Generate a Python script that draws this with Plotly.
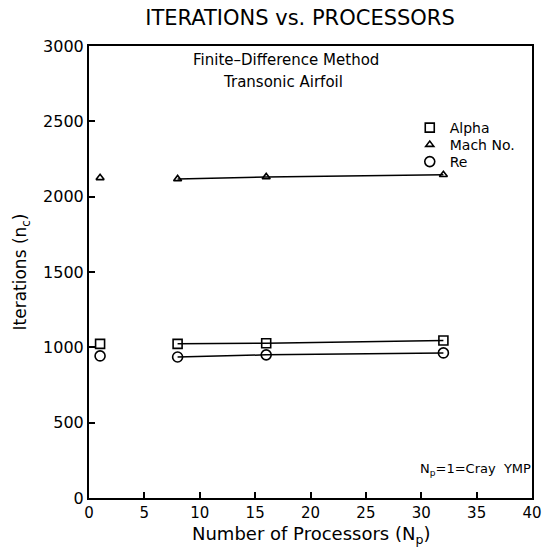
import plotly.graph_objects as go

processors = [1, 8, 16, 32]
alpha = [1023, 1023, 1027, 1045]
mach = [2125, 2118, 2131, 2145]
re_vals = [943, 936, 950, 963]

series_names = ["Alpha", "Mach No.", "Re"]
series_values = [alpha, mach, re_vals]
symbols = ["square-open", "triangle-up-open", "circle-open"]
sizes = [9, 7, 10]
legend_ids = ["legend", "legend2", "legend3"]
legend_rows = [128, 145, 162]

FONT = "DejaVu Sans"

fig = go.Figure()
for name, vals, sym, sz, lid in zip(series_names, series_values, symbols, sizes, legend_ids):
    # single Cray YMP point (not connected)
    fig.add_trace(go.Scatter(
        x=processors[:1], y=vals[:1], mode="markers", name=name,
        marker=dict(symbol=sym, size=sz, color="black", line=dict(width=1.6, color="black")),
        showlegend=True, legend=lid,
    ))
    fig.add_trace(go.Scatter(
        x=processors[1:], y=vals[1:], mode="lines+markers", name=name,
        line=dict(color="black", width=1.5),
        marker=dict(symbol=sym, size=sz, color="black", line=dict(width=1.6, color="black")),
        showlegend=False,
    ))

fig.update_layout(
    width=553, height=550,
    margin=dict(l=89, r=11, t=46, b=52),
    paper_bgcolor="white", plot_bgcolor="white",
    font=dict(family=FONT, color="black", size=15),
    title=dict(text="ITERATIONS vs. PROCESSORS", x=300 / 553, xanchor="center",
               y=1 - 18 / 550, yanchor="middle", font=dict(size=21, family=FONT)),
    showlegend=True,
)
for lid, row in zip(legend_ids, legend_rows):
    fig.update_layout({lid: dict(x=(417 - 89) / 453, y=(498 - row) / 452,
                                 xanchor="left", yanchor="middle",
                                 bgcolor="rgba(0,0,0,0)", font=dict(size=14, family=FONT),
                                 itemwidth=30)})

fig.update_xaxes(range=[0, 40], dtick=5, tick0=0, showgrid=False, zeroline=False,
                 showline=True, linecolor="black", linewidth=2, mirror=True,
                 ticks="inside", ticklen=6, tickwidth=1.5, tickcolor="black",
                 tickfont=dict(size=15))
fig.update_yaxes(range=[0, 3000], dtick=500, tick0=0, showgrid=False, zeroline=False,
                 showline=True, linecolor="black", linewidth=2, mirror=True,
                 ticks="inside", ticklen=6, tickwidth=1.5, tickcolor="black",
                 tickfont=dict(size=16),
                 title=dict(text="Iterations (n<sub>c</sub>)", font=dict(size=17), standoff=12))

# x-axis title placed as an annotation so it sits close under the tick labels
fig.add_annotation(text="Number of Processors (N<sub>p</sub>)", xref="paper", yref="paper",
                   x=0.5, y=(498 - 521) / 452, showarrow=False,
                   font=dict(size=18), xanchor="center", yanchor="top")

fig.add_annotation(text="Finite\u2013Difference Method", xref="paper", yref="paper",
                   x=(290 - 89) / 453, y=(498 - 60) / 452, showarrow=False,
                   font=dict(size=15), xanchor="center", yanchor="middle")
fig.add_annotation(text="Transonic Airfoil", xref="paper", yref="paper",
                   x=(287 - 89) / 453, y=(498 - 82) / 452, showarrow=False,
                   font=dict(size=15), xanchor="center", yanchor="middle")
fig.add_annotation(text="N<sub>p</sub>=1=Cray  YMP", xref="paper", yref="paper",
                   x=(543 - 89) / 453, y=(498 - 469) / 452, showarrow=False,
                   font=dict(size=13), xanchor="right", yanchor="middle")

fig.write_html("out.html")
